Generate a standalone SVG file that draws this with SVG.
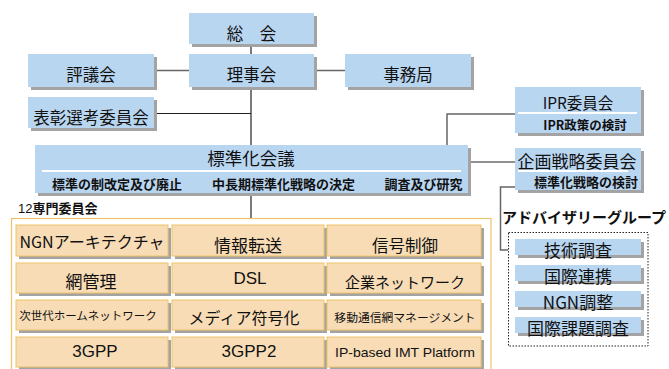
<svg xmlns="http://www.w3.org/2000/svg" width="669" height="369" viewBox="0 0 669 369">
<style>
.bg{fill:#ffffff}
.blue{fill:#B9D6F1}
.sh{fill:#A3A3A3}
.peach{fill:#F8DCB6;stroke:#EFC469;stroke-width:1}
.wl{stroke:#ffffff;stroke-width:2}
.ln{stroke:#222;stroke-width:1.2;fill:none}
.lg{stroke:#666;stroke-width:1.5;fill:none}
.t{font-family:"Noto Sans CJK JP","Liberation Sans",sans-serif;fill:#111;text-anchor:middle}
.l{font-family:"Liberation Sans","Noto Sans CJK JP",sans-serif;fill:#111;text-anchor:middle}
.b{font-weight:bold}
</style>
<rect class="bg" x="0" y="0" width="669" height="369"/>

<g id="connectors">
<line class="ln" x1="251" y1="44" x2="251" y2="54"/>
<line class="lg" x1="157" y1="70.5" x2="189" y2="70.5"/>
<line class="lg" x1="317" y1="70.5" x2="345" y2="70.5"/>
<line class="ln" x1="251" y1="87" x2="251" y2="145"/>
<line class="ln" x1="157" y1="113.5" x2="251" y2="113.5"/>
<polyline class="lg" points="447,146 447,114 515,114"/>
<line class="ln" x1="471" y1="162" x2="515" y2="162"/>
<line class="ln" x1="251" y1="196" x2="251" y2="218"/>
<polyline class="lg" points="515,187 500.5,187 500.5,250 508,250"/>
</g>

<g id="sokai">
<rect class="sh" x="192" y="16" width="125" height="31"/>
<rect class="blue" x="189" y="13" width="125" height="31"/>
<text class="t" x="251.5" y="40" font-size="16.5">総　会</text>
</g>
<g id="rijikai">
<rect class="sh" x="192" y="57" width="125" height="33"/>
<rect class="blue" x="189" y="54" width="125" height="33"/>
<text class="t" x="251.5" y="81" font-size="16.5">理事会</text>
</g>
<g id="hyogikai">
<rect class="sh" x="31" y="57" width="126" height="33"/>
<rect class="blue" x="28" y="54" width="126" height="33"/>
<text class="t" x="91" y="81" font-size="16.5">評議会</text>
</g>
<g id="jimukyoku">
<rect class="sh" x="348" y="57" width="126" height="33"/>
<rect class="blue" x="345" y="54" width="126" height="33"/>
<text class="t" x="408" y="81" font-size="16.5">事務局</text>
</g>
<g id="hyosho">
<rect class="sh" x="31" y="100" width="126" height="31"/>
<rect class="blue" x="28" y="97" width="126" height="31"/>
<text class="t" x="91" y="124" font-size="16.5">表彰選考委員会</text>
</g>
<g id="ipr">
<rect class="sh" x="518" y="90" width="126" height="46"/>
<rect class="blue" x="515" y="87" width="126" height="46"/>
<line class="wl" x1="518" y1="113" x2="637" y2="113"/>
<text class="t" x="578" y="109" font-size="15.5">IPR委員会</text>
<text class="t b" x="585" y="130" font-size="12.5">IPR政策の検討</text>
</g>
<g id="hyojunka">
<rect class="sh" x="38" y="148" width="433" height="48"/>
<rect class="blue" x="35" y="145" width="433" height="48"/>
<line class="wl" x1="42" y1="171" x2="461" y2="171"/>
<text class="t" x="251" y="165" font-size="17.5">標準化会議</text>
<text class="t b" x="117" y="189" font-size="13">標準の制改定及び廃止</text>
<text class="t b" x="283.5" y="189" font-size="13">中長期標準化戦略の決定</text>
<text class="t b" x="423.5" y="189" font-size="13">調査及び研究</text>
</g>
<g id="kikaku">
<rect class="sh" x="518" y="151" width="126" height="42"/>
<rect class="blue" x="515" y="148" width="126" height="42"/>
<line class="wl" x1="518" y1="171" x2="628" y2="171"/>
<text class="t" x="577" y="168" font-size="17">企画戦略委員会</text>
<text class="t b" x="586" y="187" font-size="13">標準化戦略の検討</text>
</g>

<g id="senmon">
<text x="18" y="213" font-family="Liberation Sans,Noto Sans CJK JP,sans-serif" font-size="13" fill="#111">12<tspan font-family="Noto Sans CJK JP,sans-serif" font-weight="bold">専門委員会</tspan></text>
<rect x="11.5" y="218.5" width="479.5" height="170" fill="none" stroke="#EFC469" stroke-width="1.2"/>
</g>

<g id="c11"><rect class="sh" x="19" y="228" width="152" height="31"/><rect class="peach" x="16" y="225" width="152" height="31"/><text class="t" x="92" y="248" font-size="16">NGNアーキテクチャ</text></g>
<g id="c12"><rect class="sh" x="175" y="228" width="152" height="31"/><rect class="peach" x="172" y="225" width="152" height="31"/><text class="t" x="248" y="252" font-size="17">情報転送</text></g>
<g id="c13"><rect class="sh" x="330" y="228" width="154" height="31"/><rect class="peach" x="327" y="225" width="154" height="31"/><text class="t" x="405" y="252" font-size="16.5">信号制御</text></g>

<g id="c21"><rect class="sh" x="19" y="266" width="152" height="30"/><rect class="peach" x="16" y="263" width="152" height="30"/><text class="t" x="91" y="288" font-size="17">網管理</text></g>
<g id="c22"><rect class="sh" x="175" y="266" width="152" height="30"/><rect class="peach" x="172" y="263" width="152" height="30"/><text class="l" x="250" y="284" font-size="17">DSL</text></g>
<g id="c23"><rect class="sh" x="330" y="266" width="154" height="30"/><rect class="peach" x="327" y="263" width="154" height="30"/><text class="t" x="405" y="288" font-size="15">企業ネットワーク</text></g>

<g id="c31"><rect class="sh" x="19" y="303" width="152" height="30"/><rect class="peach" x="16" y="300" width="152" height="30"/><text class="t" x="88" y="320" font-size="11.5">次世代ホームネットワーク</text></g>
<g id="c32"><rect class="sh" x="175" y="303" width="152" height="30"/><rect class="peach" x="172" y="300" width="152" height="30"/><text class="t" x="244" y="324" font-size="16">メディア符号化</text></g>
<g id="c33"><rect class="sh" x="330" y="303" width="154" height="30"/><rect class="peach" x="327" y="300" width="154" height="30"/><text class="t" x="405" y="322" font-size="11.8">移動通信網マネージメント</text></g>

<g id="c41"><rect class="sh" x="19" y="340" width="152" height="30"/><rect class="peach" x="16" y="337" width="152" height="30"/><text class="l" x="95" y="357" font-size="17">3GPP</text></g>
<g id="c42"><rect class="sh" x="175" y="340" width="152" height="30"/><rect class="peach" x="172" y="337" width="152" height="30"/><text class="l" x="249" y="357" font-size="17">3GPP2</text></g>
<g id="c43"><rect class="sh" x="330" y="340" width="154" height="30"/><rect class="peach" x="327" y="337" width="154" height="30"/><text class="l" x="405" y="357" font-size="13" textLength="140" lengthAdjust="spacingAndGlyphs">IP-based IMT Platform</text></g>

<g id="advisory">
<text class="t b" x="584" y="223" font-size="15">アドバイザリーグループ</text>
<rect x="508.5" y="232.5" width="139.5" height="113.5" fill="none" stroke="#222" stroke-width="1" stroke-dasharray="1.5,1.5"/>
</g>
<g id="a1"><rect class="sh" x="518" y="242" width="126" height="16"/><rect class="blue" x="515" y="239" width="126" height="16"/><text class="t" x="578" y="257" font-size="17">技術調査</text></g>
<g id="a2"><rect class="sh" x="518" y="268" width="126" height="16"/><rect class="blue" x="515" y="265" width="126" height="16"/><text class="t" x="578" y="283" font-size="17">国際連携</text></g>
<g id="a3"><rect class="sh" x="518" y="294" width="126" height="16"/><rect class="blue" x="515" y="291" width="126" height="16"/><text class="t" x="578" y="309" font-size="17">NGN調整</text></g>
<g id="a4"><rect class="sh" x="518" y="320" width="126" height="16"/><rect class="blue" x="515" y="317" width="126" height="16"/><text class="t" x="578" y="335" font-size="17">国際課題調査</text></g>
</svg>
